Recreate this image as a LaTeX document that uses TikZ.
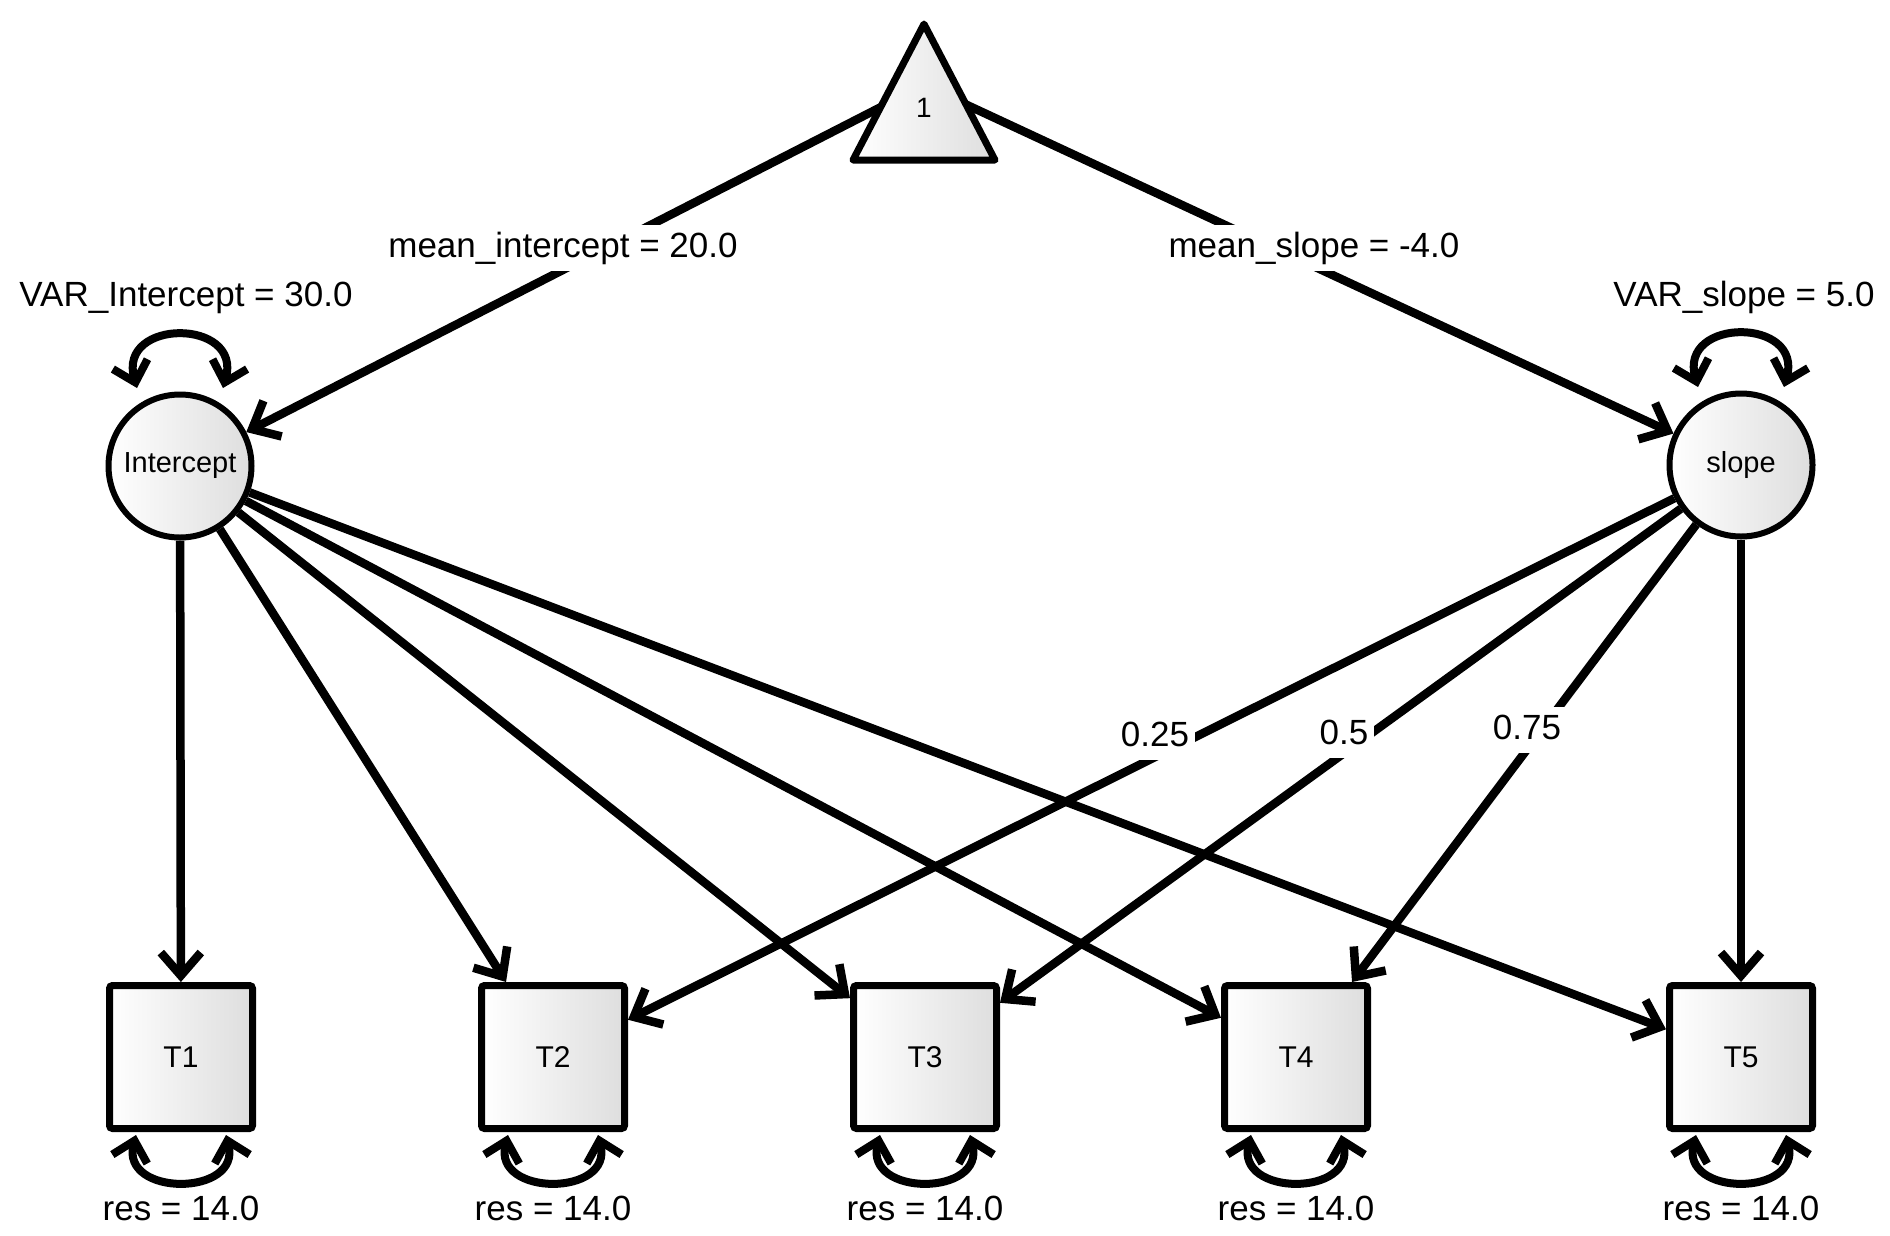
\documentclass[tikz,border=0pt]{standalone}
\usepackage{fontspec}
\setmainfont{Liberation Sans}
\usetikzlibrary{arrows.meta,calc}
\begin{document}
\begin{tikzpicture}[x=1pt,y=-1pt,
  shadefill/.style={left color=white, right color=black!13},
  latent/.style={circle, draw, line width=6pt, minimum size=143pt, inner sep=0pt, shadefill, font=\fontsize{29}{32}\selectfont},
  manifest/.style={rectangle, draw, line width=7pt, minimum size=143pt, inner sep=0pt, rounded corners=3pt, shadefill, font=\fontsize{30}{32}\selectfont},
  arr/.style={line width=8.5pt, -{Straight Barb[length=23pt,width=40pt]}},
  twoway/.style={line width=8pt, {Straight Barb[length=19pt,width=36pt]}-{Straight Barb[length=19pt,width=36pt]}},
  lab/.style={fill=white, inner sep=6pt, text height=26pt, text depth=8pt, font=\fontsize{35}{40}\selectfont},
  reslab/.style={inner sep=6pt, text height=26pt, text depth=8pt, font=\fontsize{35}{40}\selectfont}
]
\useasboundingbox (0,0) rectangle (1890,1235);
\fill[white] (0,0) rectangle (1890,1235);

% latent variables
\node[latent] (I) at (180,466) {Intercept};
\node[latent] (S) at (1741,465) {slope};

% observed variables
\node[manifest] (T1) at (181,1057) {T1};
\node[manifest] (T2) at (553,1057) {T2};
\node[manifest] (T3) at (925,1057) {T3};
\node[manifest] (T4) at (1296,1057) {T4};
\node[manifest] (T5) at (1741,1057) {T5};

% constant source
\coordinate (src) at (924,85);

% mean paths
\draw[arr] (src) -- (I);
\draw[arr] (src) -- (S);

% loadings
\draw[arr] (I) -- (T1);
\draw[arr] (I) -- (T2);
\draw[arr] (I) -- (T3);
\draw[arr] (I) -- (T4);
\draw[arr] (I) -- (T5);
\draw[arr] (S) -- (T2);
\draw[arr] (S) -- (T3);
\draw[arr] (S) -- (T4);
\draw[arr] (S) -- (T5);

% triangle for constant
\draw[line width=7pt, line join=round, shadefill] (924,24) -- (995,160) -- (853,160) -- cycle;
\node[font=\fontsize{28}{30}\selectfont] (one) at (924,108) {1};

% variances
\draw[twoway] ([shift={(-43,-78)}]I.center) .. controls +(-20,-70) and +(20,-70) .. ([shift={(43,-78)}]I.center);
\draw[twoway] ([shift={(-43,-78)}]S.center) .. controls +(-20,-70) and +(20,-70) .. ([shift={(43,-78)}]S.center);
\foreach \t in {T1,T2,T3,T4,T5}{
  \draw[twoway] ([shift={(-45,78)}]\t.center) .. controls +(-16,62) and +(16,62) .. ([shift={(45,78)}]\t.center);
}

% labels
\node[lab] (lmi) at (563,248) {mean\_intercept = 20.0};
\node[lab] (lms) at (1314,248) {mean\_slope = -4.0};
\node[reslab] (lvi) at (186,297) {VAR\_Intercept = 30.0};
\node[reslab] (lvs) at (1744,297) {VAR\_slope = 5.0};
\node[lab] (l25) at (1155,737) {0.25};
\node[lab] (l50) at (1344,735) {0.5};
\node[lab] (l75) at (1527,730) {0.75};
\node[reslab] (r1) at (181,1211) {res = 14.0};
\node[reslab] (r2) at (553,1211) {res = 14.0};
\node[reslab] (r3) at (925,1211) {res = 14.0};
\node[reslab] (r4) at (1296,1211) {res = 14.0};
\node[reslab] (r5) at (1741,1211) {res = 14.0};
\end{tikzpicture}
\end{document}
